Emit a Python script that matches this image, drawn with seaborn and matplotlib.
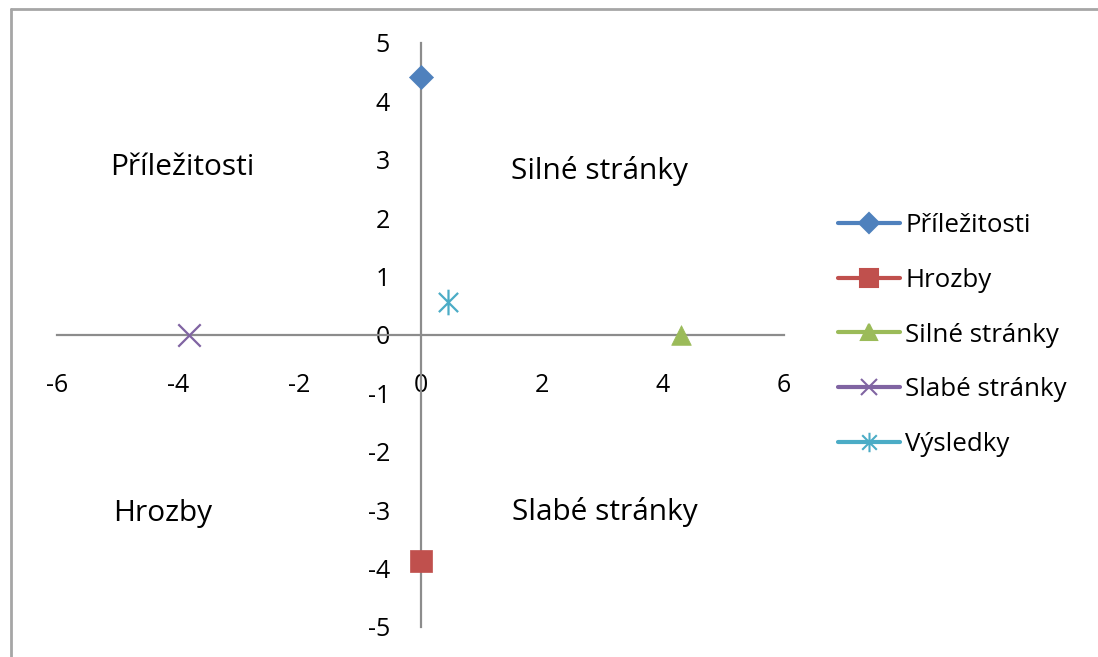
import numpy as np
import seaborn as sns
import matplotlib.pyplot as plt
from matplotlib.lines import Line2D
from matplotlib.path import Path

# Data
series = ['Příležitosti', 'Hrozby', 'Silné stránky', 'Slabé stránky', 'Výsledky']
x_vals = [0, 0, 4.3, -3.82, 0.45]
y_vals = [4.42, -3.87, 0, 0, 0.56]

quadrant_labels = ['Příležitosti', 'Silné stránky', 'Hrozby', 'Slabé stránky']
quadrant_x = [-3.93, 2.95, -4.26, 3.05]
quadrant_y = [2.86, 2.8, -3.06, -3.03]

x_ticks = [-6, -4, -2, 0, 2, 4, 6]
y_ticks = [-5, -4, -3, -2, -1, 0, 1, 2, 3, 4, 5]

sns.set_style('white')
plt.rcParams['font.family'] = ['Open Sans', 'DejaVu Sans']
plt.rcParams['axes.unicode_minus'] = False
plt.rcParams['text.color'] = 'black'

colors = ['#4F81BD', '#C0504D', '#9BBB59', '#8064A2', '#4BACC6']

# Excel-like asterisk: vertical bar plus an X
asterisk = Path([(0, -1), (0, 1), (-0.75, -0.75), (0.75, 0.75), (-0.75, 0.75), (0.75, -0.75)],
                [Path.MOVETO, Path.LINETO] * 3)
markers = ['D', 's', '^', 'x', asterisk]
sizes = [150, 270, 200, 260, 340]

fig = plt.figure(figsize=(10.98, 6.57), dpi=100)
ax = fig.add_axes([57 / 1098, 1 - 627 / 657, (784 - 57) / 1098, (627 - 43) / 657])
ax.set_xlim(-6, 6)
ax.set_ylim(-5, 5)

for i in range(len(series)):
    kw = dict(marker=markers[i], color=colors[i], s=sizes[i], zorder=3)
    if markers[i] == 'x':
        kw['linewidth'] = 1.6
    elif markers[i] is asterisk:
        kw['linewidth'] = 1.6
        kw['edgecolor'] = colors[i]
    else:
        kw['edgecolor'] = colors[i]
        kw['linewidth'] = 0.5
    sns.scatterplot(x=[x_vals[i]], y=[y_vals[i]], ax=ax, legend=False, **kw)

# axes crossing at origin
axis_color = '#8c8c8c'
for side in ['top', 'right']:
    ax.spines[side].set_visible(False)
ax.spines['left'].set_position(('data', 0))
ax.spines['bottom'].set_position(('data', 0))
for side in ['left', 'bottom']:
    ax.spines[side].set_color(axis_color)
    ax.spines[side].set_linewidth(1.6)

ax.set_xticks(x_ticks)
ax.set_yticks(y_ticks)
ax.tick_params(axis='x', direction='out', length=8, width=1.6, color=axis_color,
               pad=19, labelsize=18, labelcolor='black')
ax.tick_params(axis='y', direction='out', length=8, width=1.6, color=axis_color,
               pad=14, labelsize=18, labelcolor='black')
ax.set_xlabel('')
ax.set_ylabel('')
ax.patch.set_alpha(0)

for t, qx, qy in zip(quadrant_labels, quadrant_x, quadrant_y):
    ax.text(qx, qy, t, ha='center', va='center', fontsize=21.5, color='black')

# legend with Excel-style line + marker handles
handles = []
hsizes = [10, 13, 12, 12, 14]
for i in range(len(series)):
    h = Line2D([0], [0], color=colors[i], lw=3, marker=markers[i], markersize=hsizes[i],
               markeredgecolor=colors[i], markerfacecolor=colors[i], markeredgewidth=1.5)
    handles.append(h)
leg = fig.legend(handles, series, loc='center left', bbox_to_anchor=(838 / 1098, 1 - 335 / 657),
                 frameon=False, fontsize=18.6, borderpad=0, borderaxespad=0,
                 handlelength=2.4, handletextpad=0.2, labelspacing=1.15)
for t in leg.get_texts():
    t.set_color('black')

# chart area border (top and left edges visible)
border = '#a6a6a6'
fig.add_artist(Line2D([11 / 1098, 1], [1 - 9 / 657, 1 - 9 / 657], color=border, lw=2,
                      transform=fig.transFigure))
fig.add_artist(Line2D([11 / 1098, 11 / 1098], [0, 1 - 9 / 657], color=border, lw=2,
                      transform=fig.transFigure))

fig.savefig('out.png', dpi=100)
